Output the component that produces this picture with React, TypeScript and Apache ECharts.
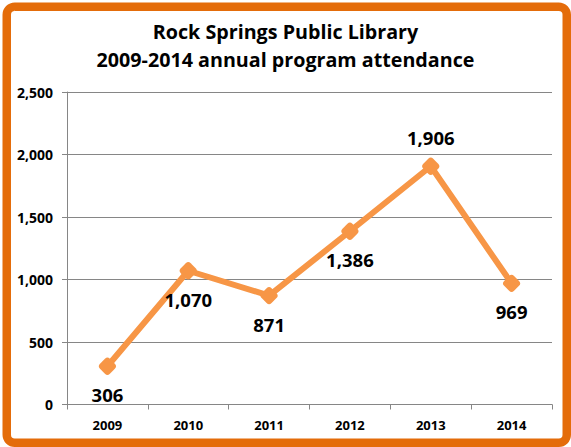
import React, { useEffect, useRef } from "react";
import * as echarts from "echarts";

const years = ["2009", "2010", "2011", "2012", "2013", "2014"];
const attendance = [306, 1070, 871, 1386, 1906, 969];
const labelAbove = [false, false, false, false, true, false];
const titleLines = ["Rock Springs Public Library", "2009-2014 annual program attendance"];

export default function App() {
  const ref = useRef<HTMLDivElement>(null);
  useEffect(() => {
    document.body.style.margin = "0";
    const chart = echarts.init(ref.current!, null, { renderer: "svg" });
    const font = "'Open Sans', sans-serif";
    chart.setOption({
      animation: false,
      backgroundColor: "#ffffff",
      title: {
        text: titleLines.join("\n"),
        left: "center",
        top: 12,
        textStyle: {
          fontFamily: font,
          fontWeight: "bold",
          fontSize: 19.7,
          lineHeight: 28,
          color: "#000000",
        },
      },
      grid: { left: 67, right: 19, top: 92, bottom: 42.5, containLabel: false },
      xAxis: {
        type: "category",
        data: years,
        boundaryGap: true,
        axisLine: { lineStyle: { color: "#868686", width: 1 } },
        axisTick: { show: true, length: 5, lineStyle: { color: "#868686" } },
        axisLabel: {
          fontFamily: font,
          fontWeight: "bold",
          fontSize: 13,
          color: "#000000",
          margin: 14,
        },
      },
      yAxis: {
        type: "value",
        min: 0,
        max: 2500,
        interval: 500,
        axisLine: { show: true, lineStyle: { color: "#868686", width: 1 } },
        axisTick: { show: true, length: 5, lineStyle: { color: "#868686" } },
        splitLine: { show: true, lineStyle: { color: "#868686", width: 1 } },
        axisLabel: {
          fontFamily: font,
          fontWeight: "bold",
          fontSize: 14,
          color: "#000000",
          margin: 14,
          formatter: (v: number) => v.toLocaleString("en-US"),
        },
      },
      series: [
        {
          type: "line",
          data: attendance.map((v, i) => ({
            value: v,
            label: {
              position: labelAbove[i] ? "top" : "bottom",
            },
          })),
          lineStyle: { color: "#F79646", width: 6 },
          itemStyle: { color: "#F79646" },
          symbol: "roundRect",
          symbolSize: 14,
          symbolRotate: 45,
          label: {
            show: true,
            distance: 9,
            fontFamily: font,
            fontWeight: "bold",
            fontSize: 18.5,
            color: "#000000",
            formatter: (p: any) => Number(p.value).toLocaleString("en-US"),
          },
        },
      ],
      graphic: [
        {
          type: "rect",
          shape: { x: 6.75, y: 6.75, width: 560, height: 436, r: 8 },
          style: { fill: "none", stroke: "#E46C0A", lineWidth: 8.5 },
          silent: true,
        },
      ],
    });
    return () => chart.dispose();
  }, []);
  return (
    <div
      ref={ref}
      style={{ position: "absolute", left: 0, top: 0, width: 571, height: 447 }}
    />
  );
}
